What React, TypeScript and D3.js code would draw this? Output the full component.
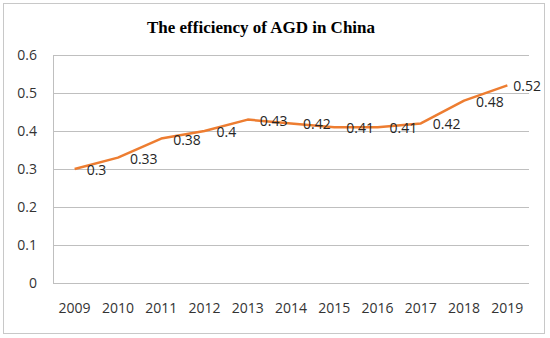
import * as d3 from "d3";
import { useEffect, useRef } from "react";

const years = ["2009", "2010", "2011", "2012", "2013", "2014", "2015", "2016", "2017", "2018", "2019"];
const efficiency = [0.3, 0.33, 0.38, 0.4, 0.43, 0.42, 0.41, 0.41, 0.42, 0.48, 0.52];
const yTicks = [0, 0.1, 0.2, 0.3, 0.4, 0.5, 0.6];
const title = "The efficiency of AGD in China";

const EfficiencyChart = () => {
  const chartRef = useRef<HTMLDivElement>(null);

  useEffect(() => {
    const width = 550;
    const height = 338;
    const plot = { left: 53, right: 529, top: 55, bottom: 283 };
    const font = "'Open Sans', 'Liberation Sans', sans-serif";
    const fontSize = 14;
    const gridColor = "#bfbfbf";
    const lineColor = "#ed7d31";
    const areaRight = 541;

    d3.select(chartRef.current).select("svg").remove();

    const svg = d3
      .select(chartRef.current)
      .append("svg")
      .attr("width", width)
      .attr("height", height)
      .style("position", "absolute")
      .style("left", "0px")
      .style("top", "0px");

    svg
      .append("rect")
      .attr("width", width)
      .attr("height", height)
      .attr("fill", "white");

    // chart area border
    svg
      .append("rect")
      .attr("x", 3.5)
      .attr("y", 3.5)
      .attr("width", 541)
      .attr("height", 330)
      .attr("fill", "white")
      .attr("stroke", "#c8c8c8");

    svg
      .append("text")
      .attr("x", 261)
      .attr("y", 33)
      .attr("text-anchor", "middle")
      .attr("font-family", "'Liberation Serif', 'Times New Roman', serif")
      .attr("font-weight", "bold")
      .attr("font-size", 17)
      .text(title);

    const x = d3
      .scaleBand()
      .domain(years)
      .range([plot.left, plot.right]);

    const y = d3.scaleLinear().domain([0, 0.6]).range([plot.bottom, plot.top]);

    const grid = svg.append("g");
    grid
      .selectAll("line")
      .data(yTicks)
      .join("line")
      .attr("x1", plot.left)
      .attr("x2", plot.right)
      .attr("y1", (d) => Math.round(y(d)) + 0.5)
      .attr("y2", (d) => Math.round(y(d)) + 0.5)
      .attr("stroke", gridColor)
      .attr("stroke-width", 1);

    // vertical axis line
    svg
      .append("line")
      .attr("x1", plot.left + 0.5)
      .attr("x2", plot.left + 0.5)
      .attr("y1", plot.top)
      .attr("y2", plot.bottom + 0.5)
      .attr("stroke", gridColor);

    svg
      .append("g")
      .selectAll("text")
      .data(yTicks)
      .join("text")
      .attr("x", 37)
      .attr("y", (d) => y(d))
      .attr("dy", "0.35em")
      .attr("text-anchor", "end")
      .attr("font-family", font)
      .attr("font-size", fontSize)
      .attr("fill", "#333")
      .text((d) => String(+d.toFixed(1)));

    svg
      .append("g")
      .selectAll("text")
      .data(years)
      .join("text")
      .attr("x", (d) => (x(d) ?? 0) + x.bandwidth() / 2)
      .attr("y", 308)
      .attr("dy", "0.35em")
      .attr("text-anchor", "middle")
      .attr("font-family", font)
      .attr("font-size", fontSize)
      .attr("fill", "#333")
      .text((d) => d);

    const points = years.map((yr, i) => ({
      yr,
      value: efficiency[i],
      cx: (x(yr) ?? 0) + x.bandwidth() / 2,
      cy: y(efficiency[i]),
    }));

    const line = d3
      .line<(typeof points)[number]>()
      .x((d) => d.cx)
      .y((d) => d.cy);

    svg
      .append("path")
      .attr("d", line(points))
      .attr("fill", "none")
      .attr("stroke", lineColor)
      .attr("stroke-width", 2.5)
      .attr("stroke-linejoin", "round");

    // data labels to the right of each point, pushed back inside chart area
    svg
      .append("g")
      .selectAll("text")
      .data(points)
      .join("text")
      .attr("x", (d) => d.cx + 12)
      .attr("y", (d) => d.cy + 1)
      .attr("dy", "0.35em")
      .attr("font-family", font)
      .attr("font-size", fontSize)
      .attr("fill", "#262626")
      .text((d) => String(d.value))
      .each(function (d) {
        const el = this as SVGTextElement;
        const w = el.getComputedTextLength();
        if (d.cx + 12 + w > areaRight) el.setAttribute("x", String(areaRight - w));
      });
  }, []);

  return <div ref={chartRef}></div>;
};

export default function App() {
  return <EfficiencyChart />;
}
